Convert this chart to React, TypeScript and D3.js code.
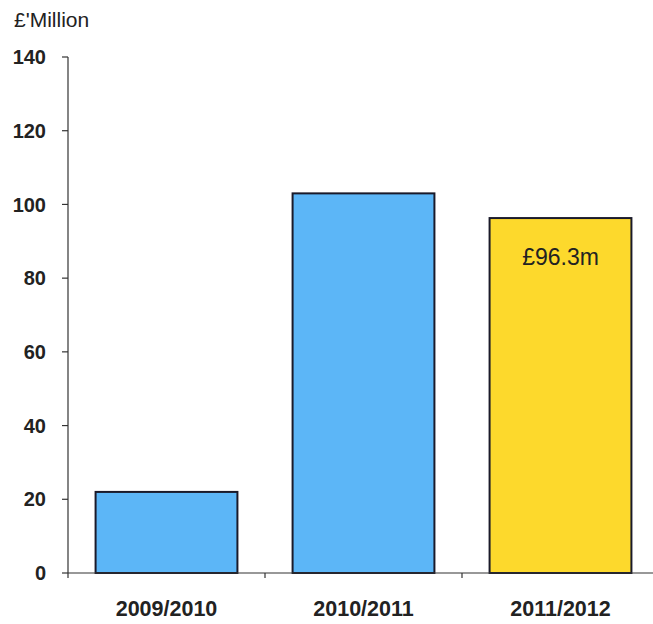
import React from "react";
import * as d3 from "d3";

const categories = ["2009/2010", "2010/2011", "2011/2012"];
const values = [22, 103, 96.3];
const barColors = ["#5cb6f7", "#5cb6f7", "#fdd92c"];
const yTicks = [0, 20, 40, 60, 80, 100, 120, 140];
const barLabels = ["", "", "£96.3m"];

export default function App() {
  const W = 653, H = 624;
  const x0 = 68, yBottom = 573, yTop = 57;
  const x = d3.scaleBand<string>().domain(categories).range([x0, x0 + 591]).paddingInner(0.28).paddingOuter(0.14);
  const y = d3.scaleLinear().domain([0, 140]).range([yBottom, yTop]);
  const font = "'Liberation Sans', Arial, sans-serif";
  return (
    <svg width={W} height={H} style={{ position: "absolute", left: 0, top: 0, background: "#fff" }}>
      <text x={14} y={27} fontFamily={font} fontSize={21} fill="#222">£'Million</text>
      {/* y axis */}
      <line x1={x0} x2={x0} y1={yTop} y2={yBottom} stroke="#333" strokeWidth={1.2} />
      {yTicks.map((t) => (
        <g key={t}>
          <line x1={x0 - 6} x2={x0} y1={y(t)} y2={y(t)} stroke="#333" strokeWidth={1.2} />
          <text x={46} y={y(t)} dy="0.36em" textAnchor="end" fontFamily={font} fontSize={20} fontWeight="bold" fill="#222">{t}</text>
        </g>
      ))}
      {/* bars */}
      {categories.map((c, i) => (
        <rect key={c} x={x(c)!} y={y(values[i])} width={x.bandwidth()} height={yBottom - y(values[i])}
          fill={barColors[i]} stroke="#1a1a2a" strokeWidth={2} />
      ))}
      {/* x axis */}
      <line x1={x0} x2={W} y1={yBottom} y2={yBottom} stroke="#333" strokeWidth={1.2} />
      {categories.map((c, i) => (
        <line key={"t" + c} x1={x0 + x.step() * i} x2={x0 + x.step() * i} y1={yBottom} y2={yBottom + 5} stroke="#333" strokeWidth={1.2} />
      ))}
      <line x1={x0 + x.step() * 3} x2={x0 + x.step() * 3} y1={yBottom} y2={yBottom + 5} stroke="#333" strokeWidth={1.2} />
      {categories.map((c) => (
        <text key={"l" + c} x={x(c)! + x.bandwidth() / 2} y={616} textAnchor="middle" fontFamily={font} fontSize={21.5} fontWeight="bold" fill="#222">{c}</text>
      ))}
      {categories.map((c, i) => barLabels[i] ? (
        <text key={"bl" + c} x={x(c)! + x.bandwidth() / 2} y={y(values[i]) + 47} textAnchor="middle" fontFamily={font} fontSize={23} fill="#222">{barLabels[i]}</text>
      ) : null)}
    </svg>
  );
}
